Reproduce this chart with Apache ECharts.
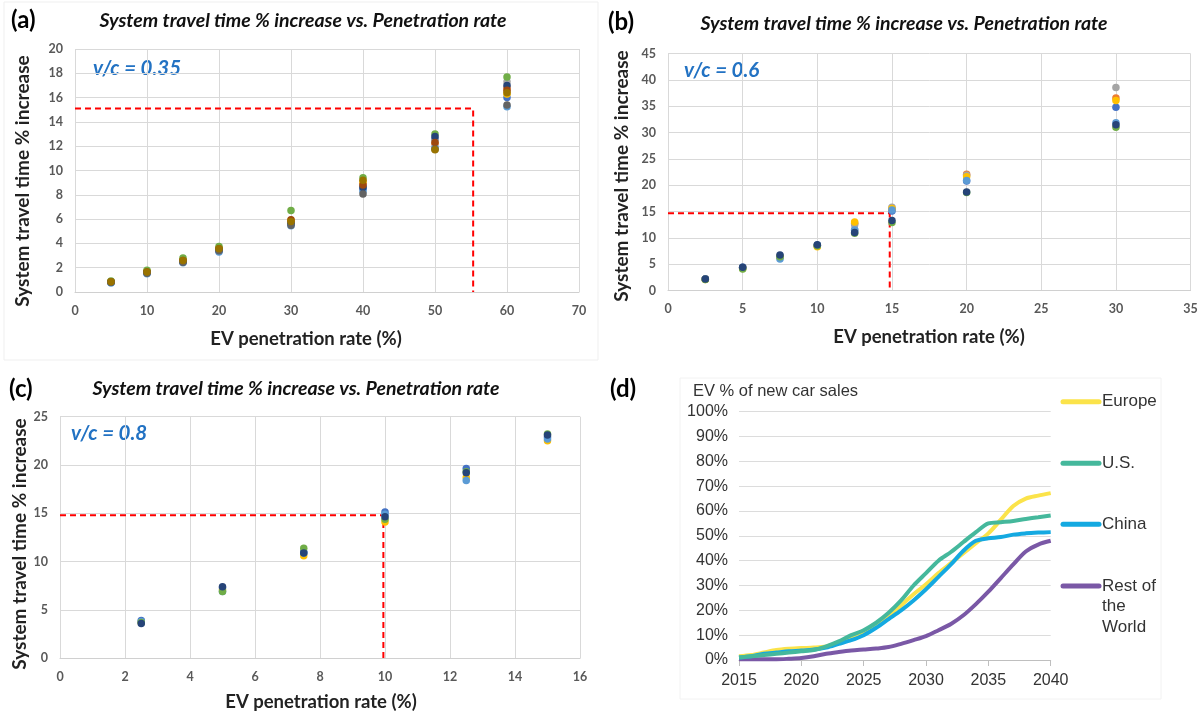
<!DOCTYPE html>
<html>
<head>
<meta charset="utf-8">
<script src="https://cdn.jsdelivr.net/npm/echarts@6/dist/echarts.min.js"></script>
<style>
html, body { margin: 0; padding: 0; background: #fff; }
#main { width: 1203px; height: 717px; }
</style>
</head>
<body>
<div id="main"></div>
<script>
// ---- panel (a), v/c = 0.35 ----
const A_X = [5, 10, 15, 20, 30, 40, 50, 60];
const A_BLUE = [0.8, 1.6, 2.5, 3.4, 5.6, 8.5, 12.6, 16.0];
const A_ORANGE = [0.85, 1.7, 2.6, 3.5, 5.8, 8.9, 12.2, 16.8];
const A_GRAY = [0.8, 1.65, 2.55, 3.5, 5.7, 8.7, 12.5, 17.3];
const A_GOLD = [0.85, 1.7, 2.65, 3.6, 5.9, 9.1, 11.8, 16.3];
const A_LIGHTBLUE = [0.75, 1.5, 2.4, 3.3, 5.45, 8.3, 11.9, 15.25];
const A_GREEN = [0.9, 1.8, 2.8, 3.75, 6.7, 9.4, 13.0, 17.7];
const A_DARKBLUE = [0.8, 1.6, 2.5, 3.45, 5.65, 8.6, 12.8, 17.0];
const A_BROWN = [0.85, 1.65, 2.6, 3.55, 5.95, 8.8, 12.3, 16.6];
const A_DARKGRAY = [0.8, 1.55, 2.45, 3.4, 5.5, 8.07, 11.75, 15.4];
const A_OLIVE = [0.85, 1.65, 2.6, 3.55, 5.8, 9.2, 11.7, 16.4];
const A_GUIDE_X = 55.3, A_GUIDE_Y = 15.1;

// ---- panel (b), v/c = 0.6 ----
const B_X = [2.5, 5, 7.5, 10, 12.5, 15, 20, 30];
const B_BLUE = [2.2, 4.4, 6.5, 8.6, 11.5, 15.1, 20.8, 34.8];
const B_ORANGE = [2.2, 4.3, 6.4, 8.5, 12.8, 15.5, 22.1, 36.6];
const B_GRAY = [2.2, 4.3, 6.3, 8.5, 12.5, 15.8, 21.9, 38.6];
const B_GOLD = [2.1, 4.2, 6.3, 8.3, 13.0, 15.6, 21.6, 36.1];
const B_LIGHTBLUE = [2.2, 4.3, 6.0, 8.6, 11.5, 15.3, 20.9, 31.9];
const B_GREEN = [2.1, 4.1, 6.4, 8.5, 10.9, 12.9, 18.6, 31.0];
const B_DARKBLUE = [2.2, 4.4, 6.75, 8.7, 11.0, 13.3, 18.7, 31.5];
const B_GUIDE_X = 14.85, B_GUIDE_Y = 14.7;

// ---- panel (c), v/c = 0.8 ----
const C_X = [2.5, 5, 7.5, 10, 12.5, 15];
const C_BLUE = [3.9, 7.3, 11.0, 15.15, 19.65, 22.9];
const C_GOLD = [3.7, 7.1, 10.6, 14.1, 18.7, 22.5];
const C_LIGHTBLUE = [3.8, 6.9, 10.9, 14.9, 18.4, 22.7];
const C_GREEN = [3.7, 6.9, 11.4, 14.4, 19.3, 23.2];
const C_DARKBLUE = [3.6, 7.4, 10.9, 14.65, 19.2, 23.1];
const C_GUIDE_X = 9.95, C_GUIDE_Y = 14.8;

// ---- panel (d), EV % of new car sales ----
const YEARS = [2015, 2016, 2017, 2018, 2019, 2020, 2021, 2022, 2023, 2024, 2025, 2026, 2027,
  2028, 2029, 2030, 2031, 2032, 2033, 2034, 2035, 2036, 2037, 2038, 2039, 2040];
const EUROPE = [1.5, 2, 3, 4, 4.5, 4.8, 5, 5.5, 7, 9, 11, 14, 18, 22, 26.5, 30.5, 35, 39, 43, 47, 51, 56.5, 62, 65, 66.2, 67.2];
const US = [1, 1.5, 2, 2.5, 3, 3.5, 4, 5.5, 7.5, 10, 12, 15, 19, 24, 30, 35, 40, 43.5, 47.5, 51.5, 55, 55.5, 56, 56.8, 57.5, 58.2];
const CHINA = [1, 1.5, 2.5, 3, 3.5, 3.8, 4.2, 5, 6.5, 8, 10, 13, 16.5, 20, 24, 28.5, 33.5, 38.5, 44, 48, 49, 49.5, 50.5, 51, 51.3, 51.5];
const REST = [0.3, 0.3, 0.3, 0.3, 0.5, 0.8, 1.5, 2.5, 3.2, 3.8, 4.2, 4.6, 5.2, 6.5, 8, 9.6, 12, 14.5, 18, 22.5, 27.5, 33, 38.5, 43.7, 46.5, 48];
const REGIONS = ['Europe', 'U.S.', 'China', 'Rest of\nthe\nWorld'];

const EXCEL = {
  blue: '#4472C4', orange: '#ED7D31', gray: '#A5A5A5', gold: '#FFC000', lightBlue: '#5B9BD5',
  green: '#70AD47', darkBlue: '#264478', brown: '#9E480E', darkGray: '#636363', olive: '#997300'
};
const REGION_COLORS = ['#FBE34A', '#45B89C', '#14A9E1', '#7A58A6'];

const FONT = 'Lato, "Open Sans", sans-serif';
const ARIAL = '"Liberation Sans", Arial, sans-serif';

const chart = echarts.init(document.getElementById('main'));

function scatter(idx, xs, ys, color) {
  return {
    type: 'scatter', xAxisIndex: idx, yAxisIndex: idx, symbolSize: 7.5, z: 3,
    itemStyle: { color: color, opacity: 1 },
    data: xs.map((x, i) => [x, ys[i]])
  };
}
function guide(idx, gx, gy) {
  return {
    type: 'line', xAxisIndex: idx, yAxisIndex: idx, symbol: 'none', z: 2, silent: true,
    lineStyle: { color: '#FF0000', width: 2, type: [6, 4] },
    data: [[0, gy], [gx, gy], [gx, 0]]
  };
}
function valAxis(idx, min, max, step) {
  return {
    type: 'value', gridIndex: idx, min: min, max: max, interval: step,
    axisLine: { show: false }, axisTick: { show: false },
    splitLine: { lineStyle: { color: '#d9d9d9', width: 1 } },
    axisLabel: { color: '#595959', fontFamily: FONT, fontWeight: 'bold', fontSize: 12.5, margin: 12 }
  };
}
function xAxisOf(idx, min, max, step) {
  const a = valAxis(idx, min, max, step);
  a.axisLine = { show: true, lineStyle: { color: '#d0d0d0', width: 1 } };
  return a;
}
function txt(x, y, text, size, opts) {
  return {
    type: 'text', x: x, y: y, rotation: (opts && opts.rot) || 0,
    style: Object.assign({
      text: text, fontSize: size, fontFamily: FONT, fontWeight: 'bold', fill: '#000',
      align: 'left', verticalAlign: 'middle'
    }, (opts && opts.style) || {})
  };
}

const TITLE = 'System travel time % increase vs. Penetration rate';
const YNAME = 'System travel time % increase';
const XNAME = 'EV penetration rate (%)';
const titleStyle = { fontStyle: 'italic', align: 'center', fill: '#111' };
const blueLabel = { fontStyle: 'italic', fill: '#2272C3' };
const nameStyle = { align: 'center', fill: '#222' };

const yearAxis = {
  type: 'value', gridIndex: 3, min: 2015, max: 2040, interval: 5,
  axisLine: { show: true, lineStyle: { color: '#bfbfbf', width: 1 } },
  axisTick: { show: true, length: 6, lineStyle: { color: '#bfbfbf' } },
  splitLine: { show: false },
  axisLabel: { color: '#333', fontFamily: ARIAL, fontSize: 16, margin: 13, formatter: v => String(v) }
};
const shareAxis = {
  type: 'value', gridIndex: 3, min: 0, max: 100, interval: 10,
  axisLine: { show: false }, axisTick: { show: false },
  splitLine: { lineStyle: { color: '#dcdcdc', width: 1 } },
  axisLabel: { color: '#333', fontFamily: ARIAL, fontSize: 16, margin: 11, formatter: '{value}%' }
};

const regionSeries = [EUROPE, US, CHINA, REST].map((vals, i) => ({
  type: 'line', xAxisIndex: 3, yAxisIndex: 3, symbol: 'none', smooth: 0.3,
  lineStyle: { color: REGION_COLORS[i], width: 4 },
  data: YEARS.map((y, k) => [y, vals[k]])
}));
// draw order: rest of world, Europe, China, U.S.
const regionOrdered = [regionSeries[3], regionSeries[0], regionSeries[2], regionSeries[1]];

const legendY = [401.7, 463.3, 524.3, 586];
const legendGraphics = [];
REGIONS.forEach((name, i) => {
  legendGraphics.push({
    type: 'line', shape: { x1: 1063, y1: legendY[i], x2: 1099, y2: legendY[i] },
    style: { stroke: REGION_COLORS[i], lineWidth: 5, lineCap: 'round' }
  });
  name.split('\n').forEach((part, k) => {
    legendGraphics.push(txt(1102, legendY[i] + k * 20.7, part, 17,
      { style: { fontFamily: ARIAL, fontWeight: 'normal', fill: '#333' } }));
  });
});

const option = {
  backgroundColor: '#fff',
  animation: false,
  grid: [
    { left: 75, top: 49, width: 504, height: 243 },
    { left: 668, top: 53.7, width: 522.6, height: 236.8 },
    { left: 60, top: 416.7, width: 520, height: 241.6 },
    { left: 739, top: 411.7, width: 311.7, height: 248.3 }
  ],
  xAxis: [xAxisOf(0, 0, 70, 10), xAxisOf(1, 0, 35, 5), xAxisOf(2, 0, 16, 2), yearAxis],
  yAxis: [valAxis(0, 0, 20, 2), valAxis(1, 0, 45, 5), valAxis(2, 0, 25, 5), shareAxis],
  series: [
    guide(0, A_GUIDE_X, A_GUIDE_Y),
    scatter(0, A_X, A_BLUE, EXCEL.blue),
    scatter(0, A_X, A_ORANGE, EXCEL.orange),
    scatter(0, A_X, A_GRAY, EXCEL.gray),
    scatter(0, A_X, A_GOLD, EXCEL.gold),
    scatter(0, A_X, A_LIGHTBLUE, EXCEL.lightBlue),
    scatter(0, A_X, A_GREEN, EXCEL.green),
    scatter(0, A_X, A_DARKBLUE, EXCEL.darkBlue),
    scatter(0, A_X, A_BROWN, EXCEL.brown),
    scatter(0, A_X, A_DARKGRAY, EXCEL.darkGray),
    scatter(0, A_X, A_OLIVE, EXCEL.olive),

    guide(1, B_GUIDE_X, B_GUIDE_Y),
    scatter(1, B_X, B_BLUE, EXCEL.blue),
    scatter(1, B_X, B_ORANGE, EXCEL.orange),
    scatter(1, B_X, B_GRAY, EXCEL.gray),
    scatter(1, B_X, B_GOLD, EXCEL.gold),
    scatter(1, B_X, B_LIGHTBLUE, EXCEL.lightBlue),
    scatter(1, B_X, B_GREEN, EXCEL.green),
    scatter(1, B_X, B_DARKBLUE, EXCEL.darkBlue),

    guide(2, C_GUIDE_X, C_GUIDE_Y),
    scatter(2, C_X, C_BLUE, EXCEL.blue),
    scatter(2, C_X, C_GOLD, EXCEL.gold),
    scatter(2, C_X, C_LIGHTBLUE, EXCEL.lightBlue),
    scatter(2, C_X, C_GREEN, EXCEL.green),
    scatter(2, C_X, C_DARKBLUE, EXCEL.darkBlue)
  ].concat(regionOrdered),
  graphic: [
    // faint frames
    { type: 'rect', shape: { x: 4, y: 2, width: 594, height: 358 }, style: { fill: 'none', stroke: '#efefef', lineWidth: 1 } },
    { type: 'rect', shape: { x: 680, y: 378, width: 481, height: 321 }, style: { fill: 'none', stroke: '#f2f2f2', lineWidth: 1 } },

    // panel (a)
    txt(11, 20, '(a)', 24),
    txt(303, 21, TITLE, 19.5, { style: titleStyle }),
    txt(93, 68, 'v/c = 0.35', 20.5, { style: blueLabel }),
    txt(23, 181, YNAME, 19, { rot: Math.PI / 2, style: nameStyle }),
    txt(306, 339, XNAME, 18.5, { style: nameStyle }),

    // panel (b)
    txt(608, 22, '(b)', 24),
    txt(904, 24, TITLE, 19.5, { style: titleStyle }),
    txt(684, 70, 'v/c = 0.6', 20.5, { style: blueLabel }),
    txt(622, 176, YNAME, 19, { rot: Math.PI / 2, style: nameStyle }),
    txt(929, 337, XNAME, 18.5, { style: nameStyle }),

    // panel (c)
    txt(9, 389, '(c)', 24),
    txt(296, 389, TITLE, 19.5, { style: titleStyle }),
    txt(71, 433, 'v/c = 0.8', 20.5, { style: blueLabel }),
    txt(20, 544, YNAME, 19, { rot: Math.PI / 2, style: nameStyle }),
    txt(321, 702, XNAME, 18.5, { style: nameStyle }),

    // panel (d)
    txt(610, 389, '(d)', 24),
    txt(693, 391, 'EV % of new car sales', 16.5, { style: { fontFamily: ARIAL, fontWeight: 'normal', fill: '#333' } })
  ].concat(legendGraphics)
};

chart.setOption(option);
</script>
</body>
</html>
